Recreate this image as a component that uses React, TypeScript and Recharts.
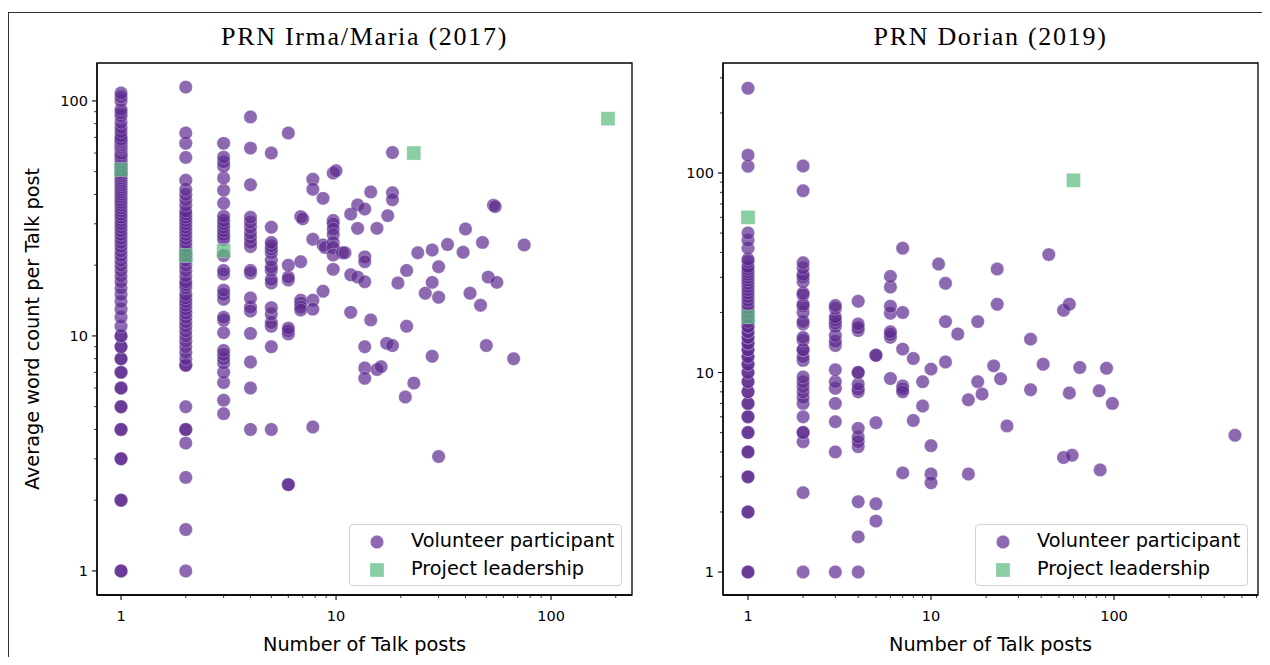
import React from "react";
import { ScatterChart, Scatter, XAxis, YAxis, ReferenceArea } from "recharts";

// colours (matplotlib alpha 0.7 applied separately to face and edge)
const PURPLE = "#5b2a8e";
const GREEN = "#5cbc7f";

// ---------- PRN Irma/Maria (2017) ----------
// average words per post for users with 1..6 posts
const irmaOnePost = [
  1, 1, 2, 2, 3, 3, 4, 4, 5, 5, 6, 6, 7, 7, 8, 8, 9, 9, 10, 10, 11, 12, 13, 14, 15, 16, 17, 18, 19, 20,
  21, 22, 23, 24, 25, 26, 27, 28, 29, 30, 31, 32, 33, 34, 35, 36, 37, 38, 39, 40, 41, 42, 43, 44, 45,
  46, 47, 48, 49, 50, 52, 53, 54, 55, 56, 57, 58, 59, 60, 62, 63, 64, 65, 66, 67, 68, 69, 71, 74, 77,
  81, 86, 89, 92, 100, 104, 108,
];
const irmaTwoPosts = [
  1, 1.5, 2.5, 3.5, 4, 4, 5, 7.5, 7.5, 8, 8.5, 9, 9.5, 10, 10.5, 11, 11.5, 12, 12.5, 13, 13.5, 14, 14.5,
  15, 16, 16.5, 17, 18, 19, 20, 21, 22, 23, 24, 25, 26, 27, 28, 29, 30, 31, 32, 33, 34, 36, 38, 40, 42,
  46, 57.5, 66, 73, 114.5,
];
const irmaThreePosts = [
  4.67, 5.33, 6.33, 7, 7.67, 8, 8.33, 8.67, 10.33, 11.67, 12, 14.33, 15, 15.67, 18.33, 19, 22, 25.67,
  26.33, 27, 28, 29, 30, 31, 32.33, 36.67, 41.67, 47, 52.67, 55, 57.67, 66,
];
const irmaFourPosts = [
  4, 6, 7.75, 10.25, 12.75, 13.25, 14.5, 18.5, 19, 24, 25, 26.25, 27.5, 29, 30.5, 32, 44, 63, 85.5,
];
const irmaFivePosts = [
  4, 9, 11, 11.4, 12.4, 13.2, 16.8, 17.4, 19, 19.6, 21, 22.6, 23.4, 24.2, 25, 29, 60,
];
const irmaSixPosts = [2.33, 2.33, 10.2, 10.5, 10.8, 17.3, 17.8, 20, 73];
// [posts, avg words] for the rest of the volunteers
const irmaOtherPosts = [
  [6.85, 32.2], [7, 31.5], [6.85, 20.7], [6.85, 14.2], [6.85, 13.8], [6.85, 13.3], [6.85, 12.9],
  [7.8, 46.4], [7.8, 42.1], [7.8, 25.8], [7.8, 14.2], [7.8, 13], [7.8, 4.1],
  [8.7, 38.5], [8.7, 24.4], [8.9, 23.8], [8.7, 15.5],
  [9.7, 49.3], [10, 50.5], [9.7, 31], [9.7, 30], [9.7, 28.5], [9.7, 27], [9.7, 25], [9.7, 23.8],
  [9.7, 22.1], [9.7, 19.2], [10.7, 22.6], [11, 22.6],
  [11.7, 33], [11.7, 18.2], [11.7, 12.6], [12.6, 36.1], [12.6, 28.7], [12.6, 17.8],
  [13.6, 34.7], [13.6, 21.7], [13.6, 20.7], [13.6, 17], [13.6, 9], [13.6, 7.3], [13.6, 6.6],
  [14.5, 41], [14.5, 11.7], [15.5, 28.7], [15.5, 7.2], [16.2, 7.4],
  [17.4, 32.5], [17.2, 9.3], [18.3, 9.1], [18.3, 60.3], [18.3, 40.7], [18.3, 38], [19.4, 16.8],
  [21.3, 19], [21.3, 11], [21, 5.5], [23, 6.3], [24, 22.6], [26, 15.2],
  [28, 23.2], [28, 16.9], [28, 8.2], [30, 19.7], [30, 14.6], [30, 3.07], [33, 24.5],
  [39, 22.7], [40, 28.5], [42, 15.2], [47, 13.5], [48, 25],
  [50, 9.1], [51, 17.8], [54, 36], [55, 35.5], [56, 16.9], [67, 8], [75, 24.4],
];
const irmaLeaders = [[1, 51], [2, 22], [3, 23], [23, 60], [184, 84]];

// ---------- PRN Dorian (2019) ----------
const dorianOnePost = [
  1, 1, 2, 2, 3, 3, 4, 4, 5, 5, 6, 6, 7, 7, 8, 8, 9, 9, 10, 10, 11, 11, 12, 12, 13, 13, 14, 14, 15,
  15, 16, 16, 17, 17, 18, 19, 20, 21, 22, 23, 24, 25, 26, 27, 28, 29, 30, 31, 32, 33, 34, 36, 37, 42,
  46, 50, 108, 123, 266,
];
const dorianTwoPosts = [
  1, 2.5, 4.5, 5, 5, 6, 7, 7.5, 8, 8.5, 9, 9.5, 11.5, 12, 13, 13, 14.5, 15, 17.5, 18, 20, 21.5, 22,
  24.5, 25, 28.5, 30, 31, 33.5, 35.5, 81.5, 108.5,
];
const dorianThreePosts = [
  1, 4, 5.67, 7, 8.33, 9, 10.33, 13.67, 14.33, 15.33, 17, 17.67, 18.33, 19, 21, 21.67,
];
const dorianFourPosts = [
  1, 1.5, 2.25, 4.25, 4.5, 4.75, 5.25, 8, 8.25, 8.75, 10, 10, 16.25, 16.75, 17.5, 22.75,
];
const dorianFivePosts = [1.8, 2.2, 5.6, 12.2, 12.2];
const dorianSixPosts = [9.33, 15, 15.5, 16, 19.83, 21.5, 26.83, 30.33];
const dorianOtherPosts = [
  [7, 42], [7, 20], [7, 13.1], [7, 8.57], [7, 8.29], [7, 8], [7, 3.14],
  [8, 11.75], [8, 5.75], [9, 9], [9, 6.8],
  [10, 10.4], [10, 4.3], [10, 3.1], [10, 2.8],
  [11, 35], [12, 28], [12, 18], [12, 11.3], [14, 15.6], [16, 7.3], [16, 3.1],
  [18, 18], [18, 9], [19, 7.8], [22, 10.8], [23, 33], [23, 22], [24, 9.3], [26, 5.4],
  [35, 14.7], [35, 8.2], [41, 11], [44, 39],
  [53, 20.5], [53, 3.75], [57, 22], [57, 7.9], [59, 3.85],
  [65, 10.6], [83, 8.1], [84, 3.25], [91, 10.5], [98, 7], [458, 4.85],
];
const dorianLeaders = [[1, 60], [1, 19], [60, 92]];

// axis ticks
const majorTicks = [1, 10, 100];
const irmaXTicks = [1, 2, 3, 4, 5, 6, 7, 8, 9, 10, 20, 30, 40, 50, 60, 70, 80, 90, 100, 200];
const irmaYTicks = [1, 2, 3, 4, 5, 6, 7, 8, 9, 10, 20, 30, 40, 50, 60, 70, 80, 90, 100];
const dorianXTicks = [
  1, 2, 3, 4, 5, 6, 7, 8, 9, 10, 20, 30, 40, 50, 60, 70, 80, 90, 100, 200, 300, 400, 500, 600,
];
const dorianYTicks = [
  1, 2, 3, 4, 5, 6, 7, 8, 9, 10, 20, 30, 40, 50, 60, 70, 80, 90, 100, 200, 300,
];

const column = (posts: number, words: number[]) => words.map((y) => ({ x: posts, y }));
const pairs = (list: number[][]) => list.map(([x, y]) => ({ x, y }));

const irmaVolunteers = [
  ...column(1, irmaOnePost),
  ...column(2, irmaTwoPosts),
  ...column(3, irmaThreePosts),
  ...column(4, irmaFourPosts),
  ...column(5, irmaFivePosts),
  ...column(6, irmaSixPosts),
  ...pairs(irmaOtherPosts),
];
const dorianVolunteers = [
  ...column(1, dorianOnePost),
  ...column(2, dorianTwoPosts),
  ...column(3, dorianThreePosts),
  ...column(4, dorianFourPosts),
  ...column(5, dorianFivePosts),
  ...column(6, dorianSixPosts),
  ...pairs(dorianOtherPosts),
];

const SANS = "'DejaVu Sans', sans-serif";
const LABEL_SIZE = 19.3;

const Dot = (p: any) => (
  <circle
    cx={p.cx}
    cy={p.cy}
    r={6.7}
    fill={PURPLE}
    fillOpacity={0.7}
    stroke="#fff"
    strokeOpacity={0.45}
    strokeWidth={0.6}
  />
);

const Square = (p: any) => (
  <rect
    x={p.cx - 7}
    y={p.cy - 7}
    width={14}
    height={14}
    fill={GREEN}
    fillOpacity={0.72}
    stroke="#fff"
    strokeOpacity={0.45}
    strokeWidth={0.6}
  />
);

const XTick = ({ x, y, payload }: any) => {
  const major = majorTicks.includes(payload.value);
  return (
    <g>
      <line x1={x} x2={x} y1={y} y2={y + (major ? 5 : 3)} stroke="#000" strokeWidth={major ? 1.1 : 0.8} />
      {major && (
        <text x={x} y={y + 26} textAnchor="middle" fontSize={14.5} fontFamily={SANS} fill="#000">
          {payload.value}
        </text>
      )}
    </g>
  );
};

const YTick = ({ x, y, payload }: any) => {
  const major = majorTicks.includes(payload.value);
  return (
    <g>
      <line x1={x - (major ? 5 : 3)} x2={x} y1={y} y2={y} stroke="#000" strokeWidth={major ? 1.1 : 0.8} />
      {major && (
        <text x={x - 9} y={y + 5} textAnchor="end" fontSize={14.5} fontFamily={SANS} fill="#000">
          {payload.value}
        </text>
      )}
    </g>
  );
};

function LegendBox({ left }: { left: number }) {
  return (
    <div
      style={{
        position: "absolute",
        left,
        top: 516,
        width: 271,
        height: 60,
        border: "1px solid #d4d4d4",
        borderRadius: 4,
        background: "rgba(255,255,255,0.8)",
        fontFamily: SANS,
        fontSize: LABEL_SIZE,
        color: "#000",
      }}
    >
      <svg width={40} height={60} style={{ position: "absolute", left: 7, top: 0 }}>
        <circle cx={20} cy={17} r={6.7} fill={PURPLE} fillOpacity={0.7} stroke="#fff" strokeOpacity={0.45} strokeWidth={0.6} />
        <rect x={13} y={38} width={14} height={14} fill={GREEN} fillOpacity={0.72} stroke="#fff" strokeOpacity={0.45} strokeWidth={0.6} />
      </svg>
      <div style={{ position: "absolute", left: 61, top: 4, whiteSpace: "nowrap" }}>Volunteer participant</div>
      <div style={{ position: "absolute", left: 61, top: 32, whiteSpace: "nowrap" }}>Project leadership</div>
    </div>
  );
}

function Panel(props: {
  left: number;
  width: number;
  yWidth: number;
  marginRight: number;
  xDomain: number[];
  yDomain: number[];
  xTicks: number[];
  yTicks: number[];
  volunteers: { x: number; y: number }[];
  leaders: number[][];
}) {
  const { left, width, yWidth, marginRight, xDomain, yDomain, xTicks, yTicks, volunteers, leaders } = props;
  return (
    <div style={{ position: "absolute", left, top: 0 }}>
      <ScatterChart width={width} height={649} margin={{ top: 55, right: marginRight, bottom: 0, left: 0 }}>
        <XAxis
          type="number"
          dataKey="x"
          scale="log"
          domain={xDomain}
          allowDataOverflow
          ticks={xTicks}
          interval={0}
          tickLine={false}
          tickSize={0}
          tickMargin={0}
          tick={<XTick />}
          height={62}
          axisLine={{ stroke: "#000", strokeWidth: 1.3 }}
          label={{
            value: "Number of Talk posts",
            position: "insideBottom",
            offset: 6,
            fontSize: LABEL_SIZE,
            fontFamily: SANS,
            fill: "#000",
          }}
        />
        <YAxis
          type="number"
          dataKey="y"
          scale="log"
          domain={yDomain}
          allowDataOverflow
          ticks={yTicks}
          interval={0}
          tickLine={false}
          tickSize={0}
          tickMargin={0}
          tick={<YTick />}
          width={yWidth}
          axisLine={{ stroke: "#000", strokeWidth: 1.3 }}
        />
        <ReferenceArea
          x1={xDomain[0]}
          x2={xDomain[1]}
          y1={yDomain[0]}
          y2={yDomain[1]}
          fill="none"
          fillOpacity={0}
          stroke="#000"
          strokeWidth={1.3}
          ifOverflow="visible"
        />
        <Scatter data={volunteers} shape={Dot} isAnimationActive={false} />
        <Scatter data={pairs(leaders)} shape={Square} isAnimationActive={false} />
      </ScatterChart>
    </div>
  );
}

const titleStyle: React.CSSProperties = {
  position: "absolute",
  top: 14,
  transform: "translateX(-50%)",
  whiteSpace: "nowrap",
  fontFamily: "'Liberation Serif', serif",
  fontSize: 26,
  letterSpacing: 1.7,
  color: "#000",
};

export default function App() {
  return (
    <div style={{ position: "relative", width: 1254, height: 649, overflow: "hidden", background: "#fff" }}>
      <div
        style={{
          position: "absolute",
          left: 0,
          top: 4,
          width: 1400,
          height: 800,
          border: "1px solid #333",
        }}
      />
      <Panel
        left={0}
        width={632}
        yWidth={89}
        marginRight={8}
        xDomain={[0.773, 238]}
        yDomain={[0.79, 145]}
        xTicks={irmaXTicks}
        yTicks={irmaYTicks}
        volunteers={irmaVolunteers}
        leaders={irmaLeaders}
      />
      <Panel
        left={632}
        width={622}
        yWidth={83}
        marginRight={4}
        xDomain={[0.73, 612]}
        yDomain={[0.767, 356]}
        xTicks={dorianXTicks}
        yTicks={dorianYTicks}
        volunteers={dorianVolunteers}
        leaders={dorianLeaders}
      />
      <div style={{ ...titleStyle, left: 356.5 }}>PRN Irma/Maria (2017)</div>
      <div style={{ ...titleStyle, left: 982.5 }}>PRN Dorian (2019)</div>
      <div
        style={{
          position: "absolute",
          left: 24,
          top: 321,
          transform: "translate(-50%, -50%) rotate(-90deg)",
          whiteSpace: "nowrap",
          fontFamily: SANS,
          fontSize: LABEL_SIZE,
          color: "#000",
        }}
      >
        Average word count per Talk post
      </div>
      <LegendBox left={341} />
      <LegendBox left={967} />
    </div>
  );
}
